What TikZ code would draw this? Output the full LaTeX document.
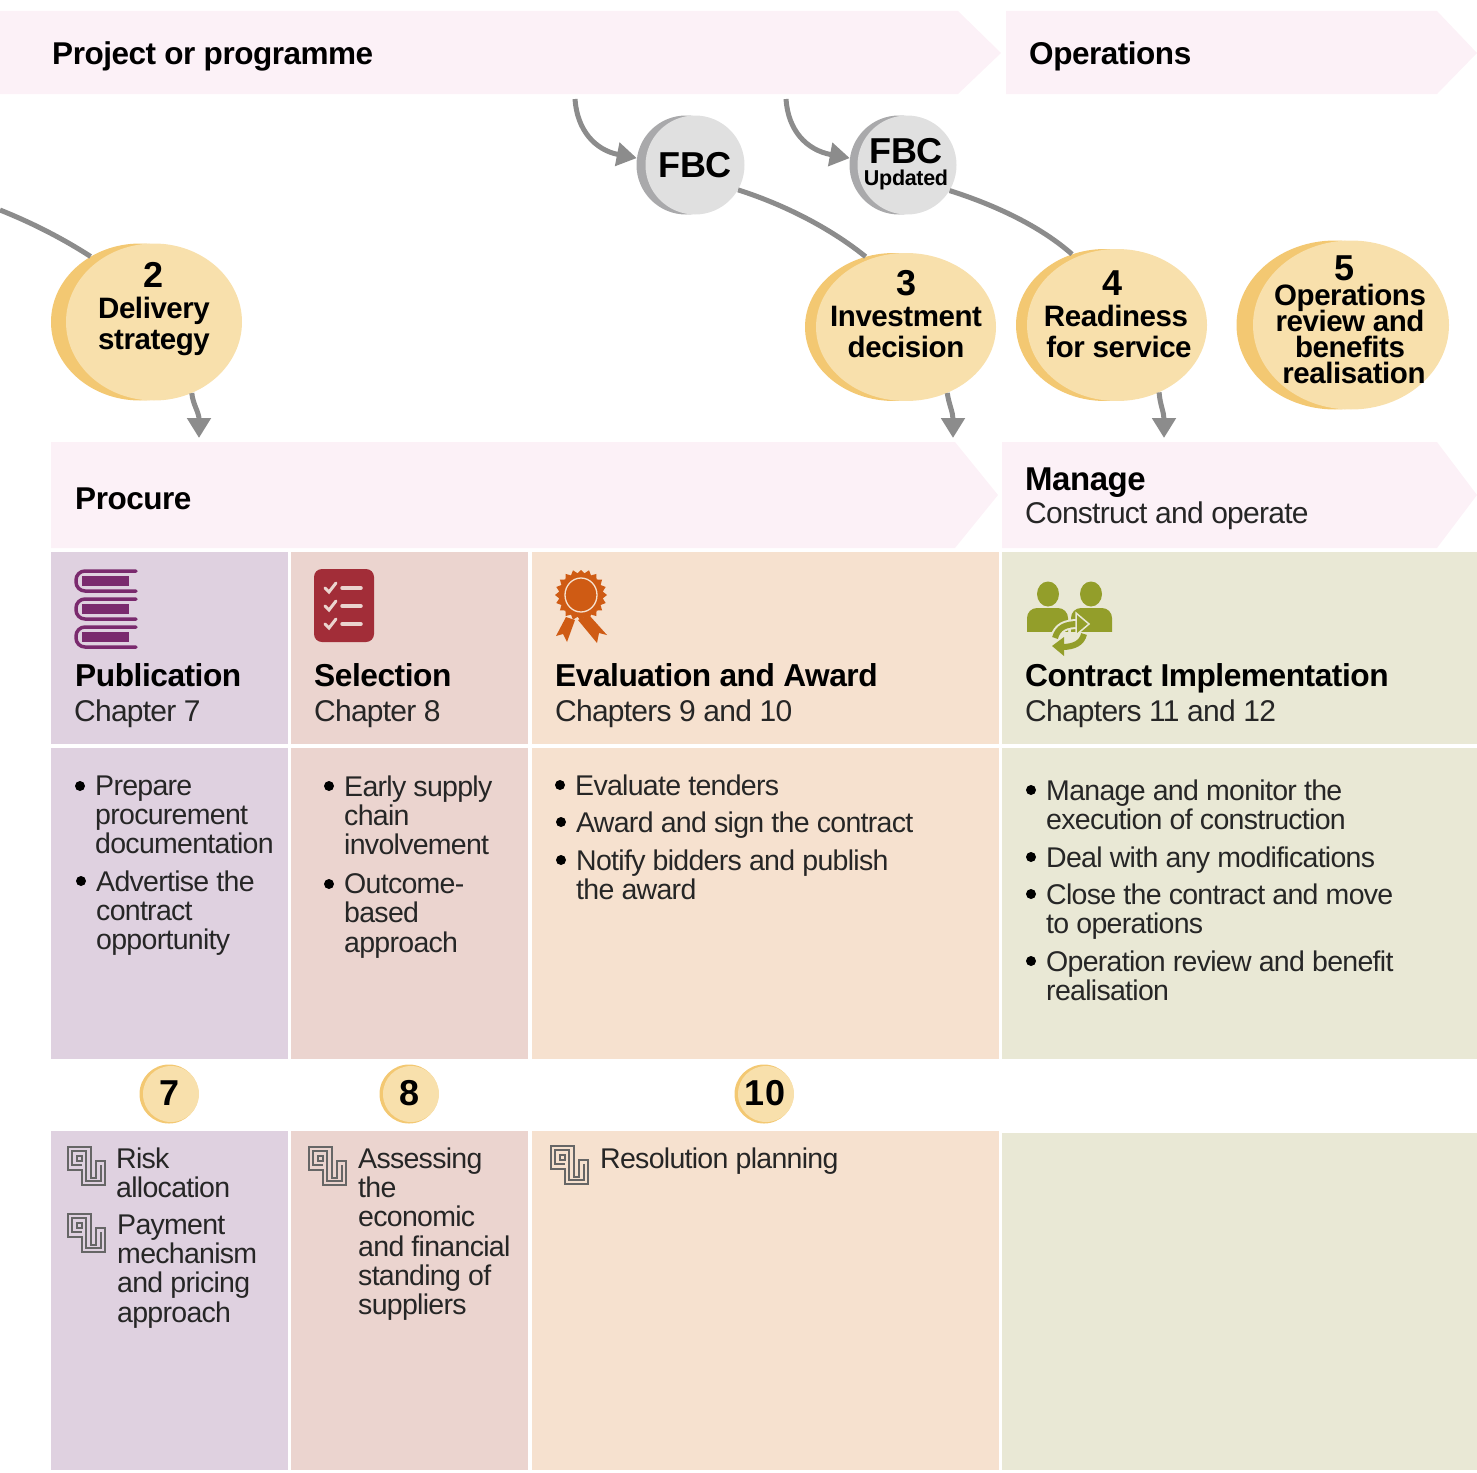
\documentclass[tikz,border=0pt]{standalone}
\usepackage{fontspec}
\setmainfont{Liberation Sans}
\newfontfamily\medfont[UprightFont={* Bold},LetterSpace=-1.5]{Liberation Sans}
\newfontfamily\blackfont[UprightFont={* Bold}]{Liberation Sans}
\newfontfamily\thinfont[LetterSpace=-2.5]{Liberation Sans}
\usetikzlibrary{arrows.meta,shapes.geometric,calc}
\definecolor{bandpink}{HTML}{FCF1F7}
\definecolor{purplebg}{HTML}{DFD1E0}
\definecolor{redbg}{HTML}{EBD4CF}
\definecolor{orangebg}{HTML}{F6E1CF}
\definecolor{greenbg}{HTML}{E9E8D5}
\definecolor{discfront}{HTML}{F8E0AC}
\definecolor{discback}{HTML}{F3C872}
\definecolor{fbcfront}{HTML}{E0E0E0}
\definecolor{fbcback}{HTML}{A9A9AB}
\definecolor{linkgrey}{HTML}{8C8C8C}
\definecolor{bookcol}{HTML}{7A2A6E}
\definecolor{listcol}{HTML}{A22D38}
\definecolor{ribboncol}{HTML}{CF5B14}
\definecolor{peoplecol}{HTML}{939E2A}
\definecolor{keycol}{HTML}{666666}
\newcommand{\medsize}[1]{\medfont\fontsize{#1}{#1}\selectfont}
\tikzset{
    band/.style={fill=bandpink},
    bandtitle/.style={anchor=base west,inner sep=0pt,font=\medsize{31.5}},
    coltitle/.style={anchor=base west,inner sep=0pt,font=\medsize{31.7}},
    bandsub/.style={anchor=base west,inner sep=0pt,font=\thinfont\fontsize{30}{30}\selectfont,text=black!85},
    body/.style={anchor=north west,inner sep=0pt,align=left,yshift=20.5pt,
        font=\thinfont\fontsize{28.5}{29.3}\selectfont,text=black!85,execute at begin node=\strut},
    discb/.style={ellipse,inner sep=0pt,fill=discback},
    discf/.style={ellipse,inner sep=0pt,fill=discfront},
    disctext/.style={inner sep=0pt,align=center,font=\medfont\fontsize{29.5}{31}\selectfont},
    link/.style={draw=linkgrey,line width=5pt},
    linkarrow/.style={link,-{Triangle[length=20pt,width=23pt]}},
    keyline/.style={draw=keycol,line width=1.4pt},
}
\newcommand{\bignum}[1]{{\blackfont\fontsize{36}{36}\selectfont #1}}
\newcommand{\bitem}[4]{%
    \begin{scope}[shift={(#2,#3)}]
        \fill (-15,-10) circle (5pt);
        \node[body] (#1) at (0,0) {#4};
    \end{scope}}
\newcommand{\keyicon}[2]{%
    \begin{scope}[shift={(#1,#2)}]
        \draw[keyline] (0,0) -- (23,0) -- (23,31) -- (28,31) -- (28,14) -- (37,14) -- (37,38) -- (14,38) -- (14,23) -- (0,23) -- cycle;
        \draw[keyline] (14,18) -- (4,18) -- (4,4) -- (18,4) -- (18,34) -- (33,34) -- (33,18);
        \draw[keyline] (9,9) -- (14,9) -- (14,14) -- (9,14) -- cycle;
    \end{scope}}
\begin{document}
\begin{tikzpicture}[x=1pt,y=-1pt]
    \useasboundingbox (0,0) rectangle (1477,1472);
    % bands
    \fill[band] (0,11) -- (958,11) -- (1001,53) -- (958,94) -- (0,94) -- cycle;
    \fill[band] (1006,11) -- (1437,11) -- (1477,53) -- (1437,94) -- (1006,94) -- cycle;
    \fill[band] (51,442) -- (955,442) -- (998,495) -- (955,548) -- (51,548) -- cycle;
    \fill[band] (1002,442) -- (1437,442) -- (1477,495) -- (1437,548) -- (1002,548) -- cycle;
    \node[bandtitle] (project) at (52,64) {Project or programme};
    \node[bandtitle] (operations) at (1029,64) {Operations};
    \node[bandtitle] (procure) at (75,509) {Procure};
    \node[bandtitle,font=\medsize{33}] (manage) at (1025,490) {Manage};
    \node[bandsub] (managesub) at (1025,523) {Construct and operate};
    % panels
    \foreach \xa/\xb/\col in {51/288/purplebg,291/528/redbg,532/999/orangebg,1002/1477/greenbg} {
        \fill[\col] (\xa,552) rectangle (\xb,744);
        \fill[\col] (\xa,748) rectangle (\xb,1059);
    }
    \fill[purplebg] (51,1131) rectangle (288,1470);
    \fill[redbg] (291,1131) rectangle (528,1470);
    \fill[orangebg] (532,1131) rectangle (999,1470);
    \fill[greenbg] (1002,1133) rectangle (1477,1470);
    % FBC discs
    \node[circle,inner sep=0pt,minimum size=99pt,fill=fbcback] (fbcb) at (686,165) {};
    \node[circle,inner sep=0pt,minimum size=99pt,fill=fbcfront,font=\medsize{36}] (fbc) at (695,165) {FBC};
    \node[circle,inner sep=0pt,minimum size=99pt,fill=fbcback] (updb) at (899,165) {};
    \node[circle,inner sep=0pt,minimum size=99pt,fill=fbcfront,align=center] (upd) at (907,165) {};
    \node[inner sep=0pt,font=\medsize{36}] (updtitle) at (906,151) {FBC};
    \node[inner sep=0pt,font=\medfont\fontsize{21.5}{21.5}\selectfont] (updsub) at (906,180) {Updated};
    % stages
    \node[discb,minimum width=178pt,minimum height=157pt] (st2b) at (140,322) {};
    \node[discf,minimum width=176pt,minimum height=157pt] (st2) at (154,322) {};
    \node[disctext] (st2txt) at (154,309) {\bignum{2}\\Delivery\\strategy};
    \node[discb,minimum width=178pt,minimum height=148pt] (st3b) at (894,327) {};
    \node[discf,minimum width=180pt,minimum height=148pt] (st3) at (906,327) {};
    \node[disctext] (st3txt) at (906,314) {\bignum{3}\\Investment\\decision};
    \node[discb,minimum width=178pt,minimum height=152pt] (st4b) at (1105,325) {};
    \node[discf,minimum width=180pt,minimum height=152pt] (st4) at (1117,325) {};
    \node[disctext] (st4txt) at (1116,314) {\bignum{4}\hspace*{8pt}\\Readiness\\\hspace*{6pt}for service};
    \node[discb,minimum width=197pt,minimum height=169pt] (st5b) at (1335,325) {};
    \node[discf,minimum width=196pt,minimum height=169pt] (st5) at (1351,325) {};
    \node[disctext] (st5txt) at (1350,320) {\bignum{5}\hspace*{12pt}\\[-6pt]Operations\\[-5pt]review and\\[-5pt]benefits\\[-5pt]\hspace*{8pt}realisation};
    % chapter discs
    \foreach \nm/\x/\num in {ch7/171/7,ch8/411/8,ch10/766/10} {
        \node[circle,inner sep=0pt,minimum size=59pt,fill=discback] (\nm b) at (\x-2,1094) {};
        \node[circle,inner sep=0pt,minimum size=56pt,fill=discfront] (\nm) at (\x,1094) {};
        \node[inner sep=0pt] (\nm txt) at (\x-1,1093) {\bignum{\num}};
    }
    % connectors
    \coordinate (fromleft) at (0,210);
    \coordinate (fbcin) at (575,99);
    \coordinate (updin) at (786,99);
    \coordinate (out2) at (199,438);
    \coordinate (out3) at (953,438);
    \coordinate (out4) at (1164,438);
    \draw[link] (fromleft) .. controls (35,224) and (65,240) .. (st2b.127);
    \draw[linkarrow] (fbcin) .. controls (577,130) and (595,150) .. (fbcb.172);
    \draw[linkarrow] (updin) .. controls (788,130) and (806,150) .. (updb.172);
    \draw[link] (fbc.-30) .. controls (785,205) and (830,228) .. (st3b.112);
    \draw[link] (upd.-31) .. controls (995,205) and (1040,226) .. (st4b.115);
    \draw[linkarrow] (st2.-62) .. controls (193,405) and (199,412) .. (out2);
    \draw[linkarrow] (st3.-58) .. controls (949,405) and (953,412) .. (out3);
    \draw[linkarrow] (st4.-58) .. controls (1160,405) and (1164,412) .. (out4);
    % publication icon
    \foreach \y in {0,28,56} {
        \begin{scope}[shift={(0,\y)}]
            \draw[draw=bookcol,line width=3.5pt,line cap=round,rounded corners=9pt] (136,571) -- (76,571) -- (76,591) -- (136,591);
            \fill[bookcol] (82,576) rectangle (129,586);
        \end{scope}
    }
    % selection icon
    \fill[listcol,rounded corners=8pt] (314,569) rectangle (374,642);
    \foreach \y in {588,606,624} {
        \draw[redbg,line width=3pt,line cap=round] (325,\y) -- (329,\y+4) -- (336,\y-5);
        \draw[redbg,line width=3.5pt,line cap=round] (342,\y) -- (361,\y);
    }
    % evaluation icon
    \fill[ribboncol] (566,617) -- (575,620) -- (567,642) -- (563,634) -- (556,636) -- cycle;
    \fill[ribboncol] (589,615) -- (607,635) -- (599,633) -- (597,643) -- (578,620) -- cycle;
    \fill[ribboncol] (581,570) \foreach \a in {9,18,...,351} {-- ({581+(mod(\a,18)==9 ? 22 : 26)*sin(\a)},{595-(mod(\a,18)==9 ? 22 : 26)*cos(\a)})} -- cycle;
    \draw[orangebg,line width=1.3pt] (581,595) ellipse (16pt and 17pt);
    % contract icon
    \fill[peoplecol] (1048,594) ellipse (11pt and 12.5pt);
    \fill[peoplecol] (1091,594) ellipse (11pt and 12.5pt);
    \fill[peoplecol,rounded corners=10pt] (1027,650) -- (1027,608) -- (1068,608) -- (1068,650) -- cycle;
    \fill[peoplecol,rounded corners=10pt] (1071,650) -- (1071,608) -- (1112,608) -- (1112,650) -- cycle;
    \fill[greenbg] (1026,632) rectangle (1113,652);
    \draw[greenbg,line width=10pt] (1055,638) .. controls (1058,627) and (1066,624) .. (1078,624);
    \draw[peoplecol,line width=6pt] (1055,638) .. controls (1058,627) and (1066,624) .. (1078,624);
    \fill[peoplecol,draw=greenbg,line width=1.5pt] (1076,613) -- (1089,624) -- (1076,635) -- cycle;
    \draw[peoplecol,line width=6pt] (1084,634) .. controls (1082,643) and (1074,647) .. (1062,647);
    \fill[peoplecol] (1064,637) -- (1052,646) -- (1064,656) -- cycle;
    % column heads
    \node[coltitle] (pub) at (75,686) {Publication};
    \node[bandsub] (pubsub) at (74,721) {Chapter 7};
    \node[coltitle] (sel) at (314,686) {Selection};
    \node[bandsub] (selsub) at (314,721) {Chapter 8};
    \node[coltitle] (eva) at (555,686) {Evaluation and Award};
    \node[bandsub] (evasub) at (555,721) {Chapters 9 and 10};
    \node[coltitle] (con) at (1025,686) {Contract Implementation};
    \node[bandsub] (consub) at (1025,721) {Chapters 11 and 12};
    % lists
    \bitem{pubA}{95}{796}{Prepare\\procurement\\documentation}
    \bitem{pubB}{96}{891}{Advertise the\\contract\\opportunity}
    \bitem{selA}{344}{796}{Early supply\\chain\\involvement}
    \bitem{selB}{344}{894}{Outcome-\\based\\approach}
    \bitem{evaA}{575}{795}{Evaluate tenders}
    \bitem{evaB}{576}{832}{Award and sign the contract}
    \bitem{evaC}{576}{870}{Notify bidders and publish\\the award}
    \bitem{conA}{1046}{800}{Manage and monitor the\\execution of construction}
    \bitem{conB}{1046}{867}{Deal with any modifications}
    \bitem{conC}{1046}{904}{Close the contract and move\\to operations}
    \bitem{conD}{1046}{971}{Operation review and benefit\\realisation}
    % lower notes
    \foreach \x/\y in {68/1147,68/1214,309/1147,551/1146} {
        \keyicon{\x}{\y}
    }
    \node[body] (risk) at (116,1168) {Risk\\allocation};
    \node[body] (pay) at (117,1235) {Payment\\mechanism\\and pricing\\approach};
    \node[body] (assess) at (358,1168) {Assessing\\the\\economic\\and financial\\standing of\\suppliers};
    \node[body] (resol) at (600,1168) {Resolution planning};
\end{tikzpicture}
\end{document}
